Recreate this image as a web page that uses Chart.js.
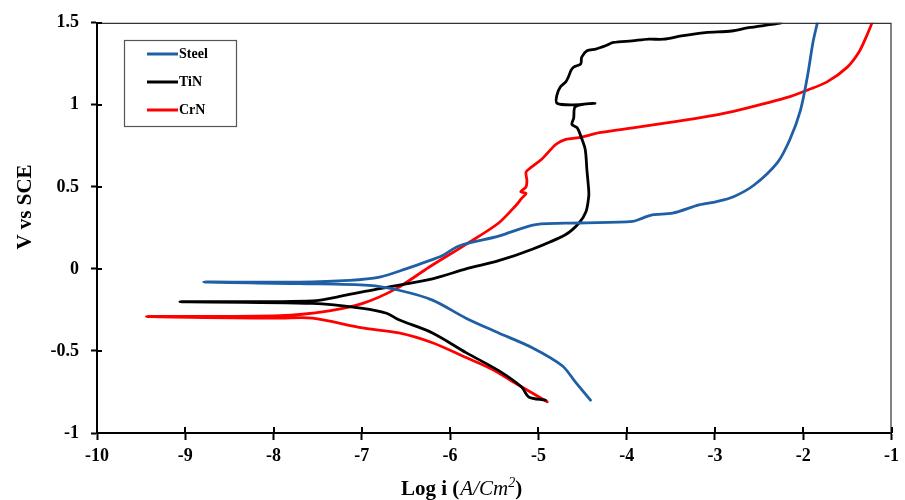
<!DOCTYPE html>
<html><head><meta charset="utf-8">
<script src="https://cdn.jsdelivr.net/npm/chart.js@4.4.1/dist/chart.umd.min.js"></script>
<style>html,body{margin:0;padding:0;background:#fff}#wrap{width:905px;height:500px}</style>
</head><body><div id="wrap"><canvas id="c" width="905" height="500"></canvas></div>
<script>
// ---- data: [log i, V vs SCE] ----
const seriesNames = ['Steel', 'TiN', 'CrN'];
const seriesColors = ['#1F5FA6', '#000000', '#FF0000'];

const steelCathodic = [[-8.79,-0.08],[-7.71,-0.09],[-6.92,-0.10],[-6.58,-0.13],[-6.20,-0.19],[-5.82,-0.30],[-5.45,-0.39],[-5.07,-0.48],[-4.73,-0.59],[-4.58,-0.69],[-4.41,-0.80]];
const steelAnodic = [[-8.79,-0.08],[-7.71,-0.08],[-7.14,-0.07],[-6.80,-0.05],[-6.50,0.0],[-6.29,0.04],[-6.09,0.08],[-5.90,0.14],[-5.45,0.20],[-5.03,0.27],[-4.54,0.28],[-3.93,0.29],[-3.82,0.31],[-3.71,0.33],[-3.48,0.34],[-3.18,0.39],[-2.98,0.41],[-2.79,0.44],[-2.56,0.51],[-2.29,0.65],[-2.15,0.79],[-2.03,0.97],[-1.95,1.18],[-1.89,1.38],[-1.84,1.50]];

const tinCathodic = [[-9.06,-0.20],[-7.56,-0.21],[-6.99,-0.24],[-6.72,-0.27],[-6.58,-0.31],[-6.20,-0.39],[-5.82,-0.51],[-5.45,-0.62],[-5.19,-0.72],[-5.11,-0.78],[-4.92,-0.80]];
const tinAnodic = [[-9.06,-0.20],[-7.56,-0.195],[-7.18,-0.16],[-6.80,-0.12],[-6.20,-0.06],[-5.82,0.0],[-5.45,0.05],[-5.07,0.12],[-4.69,0.21],[-4.54,0.28],[-4.46,0.35],[-4.43,0.44],[-4.43,0.48],[-4.45,0.60],[-4.47,0.73],[-4.52,0.81],[-4.56,0.86],[-4.62,0.88],[-4.60,0.92],[-4.58,0.99],[-4.36,1.01],[-4.60,1.00],[-4.79,1.01],[-4.79,1.06],[-4.75,1.11],[-4.69,1.14],[-4.66,1.17],[-4.63,1.21],[-4.60,1.23],[-4.52,1.25],[-4.51,1.29],[-4.45,1.33],[-4.35,1.34],[-4.24,1.36],[-4.15,1.38],[-3.94,1.39],[-3.75,1.40],[-3.58,1.40],[-3.38,1.42],[-3.11,1.44],[-2.81,1.45],[-2.62,1.47],[-2.36,1.49],[-2.25,1.50]];

const crnCathodic = [[-9.44,-0.29],[-7.93,-0.30],[-7.56,-0.30],[-6.99,-0.36],[-6.58,-0.39],[-6.20,-0.45],[-5.82,-0.54],[-5.53,-0.61],[-5.25,-0.70],[-4.90,-0.81]];
const crnAnodic = [[-9.44,-0.29],[-7.93,-0.285],[-7.37,-0.255],[-6.99,-0.21],[-6.61,-0.12],[-6.24,0.01],[-5.82,0.15],[-5.45,0.28],[-5.25,0.39],[-5.19,0.43],[-5.14,0.46],[-5.20,0.47],[-5.14,0.50],[-5.13,0.54],[-5.14,0.59],[-5.08,0.62],[-4.96,0.67],[-4.80,0.76],[-4.69,0.79],[-4.54,0.80],[-4.31,0.83],[-3.93,0.86],[-3.55,0.89],[-3.18,0.92],[-2.79,0.96],[-2.42,1.01],[-2.15,1.05],[-1.95,1.09],[-1.73,1.14],[-1.50,1.23],[-1.37,1.32],[-1.29,1.41],[-1.22,1.50]];

const xTickValues = [-10,-9,-8,-7,-6,-5,-4,-3,-2,-1];
const xTickLabels = ['-10','-9','-8','-7','-6','-5','-4','-3','-2','-1'];
const yTickValues = [-1,-0.5,0,0.5,1,1.5];
const yTickLabels = ['-1','-0.5','0','0.5','1','1.5'];

// one continuous path per material: cathodic (reversed) then anodic
function path(cat, ano) {
  const pts = cat.slice().reverse().concat(ano.slice(1));
  return pts.map(p => ({x: p[0], y: p[1]}));
}
const branches = [[steelCathodic, steelAnodic],[tinCathodic, tinAnodic],[crnCathodic, crnAnodic]];

const SERIF = '"Liberation Serif", "Times New Roman", serif';

const decor = {
  id: 'decor',
  afterDraw(chart) {
    const ctx = chart.ctx;
    const {left, right, top, bottom} = chart.chartArea;
    const xs = chart.scales.x, ys = chart.scales.y;
    ctx.save();
    // top & right frame
    ctx.strokeStyle = '#333';
    ctx.lineWidth = 1.2;
    ctx.beginPath();
    ctx.moveTo(left, top + 0.5); ctx.lineTo(right - 0.5, top + 0.5); ctx.lineTo(right - 0.5, bottom);
    ctx.stroke();
    // inner halves of the crossing tick marks
    ctx.strokeStyle = '#000';
    ctx.lineWidth = 2;
    ctx.beginPath();
    xTickValues.forEach(v => { const p = Math.round(xs.getPixelForValue(v)); ctx.moveTo(p, bottom); ctx.lineTo(p, bottom - 6); });
    yTickValues.forEach(v => { const p = Math.round(ys.getPixelForValue(v)); ctx.moveTo(left, p); ctx.lineTo(left + 5, p); });
    ctx.stroke();

    // legend box
    const lx = 124, ly = 40, lw = 112, lh = 86;
    ctx.fillStyle = '#fff';
    ctx.fillRect(lx, ly, lw, lh);
    ctx.strokeStyle = '#555';
    ctx.lineWidth = 1.2;
    ctx.strokeRect(lx + 0.5, ly + 0.5, lw, lh);
    const rowsY = [54, 82, 110];
    chart.data.datasets.forEach((ds, i) => {
      const y = rowsY[i];
      ctx.strokeStyle = ds.borderColor;
      ctx.lineWidth = 3;
      ctx.beginPath(); ctx.moveTo(147, y); ctx.lineTo(178, y); ctx.stroke();
      ctx.fillStyle = '#000';
      ctx.font = 'bold 14px ' + SERIF;
      ctx.textAlign = 'left'; ctx.textBaseline = 'middle';
      ctx.fillText(ds.label, 179, y + 0.5);
    });

    // y title
    ctx.save();
    ctx.translate(26, 207);
    ctx.rotate(-Math.PI / 2);
    ctx.font = 'bold 21px ' + SERIF;
    ctx.textAlign = 'center'; ctx.textBaseline = 'middle';
    ctx.fillStyle = '#000';
    ctx.fillText('V vs SCE', 0, 0);
    ctx.restore();

    // x title: Log i (A/Cm²)
    let x = 401; const base = 495;
    ctx.fillStyle = '#000';
    ctx.textAlign = 'left'; ctx.textBaseline = 'alphabetic';
    ctx.font = 'bold 21px ' + SERIF;
    ctx.fillText('Log i (', x, base); x += ctx.measureText('Log i (').width + 1;
    ctx.font = 'italic 21px ' + SERIF;
    ctx.fillText('A/Cm', x, base); x += ctx.measureText('A/Cm').width;
    ctx.font = 'italic 14px ' + SERIF;
    ctx.fillText('2', x, base - 8); x += ctx.measureText('2').width;
    ctx.font = 'bold 21px ' + SERIF;
    ctx.fillText(')', x, base);
    ctx.restore();
  }
};

new Chart(document.getElementById('c'), {
  type: 'scatter',
  data: {
    datasets: seriesNames.map((name, i) => ({
      label: name,
      data: path(branches[i][0], branches[i][1]),
      showLine: true,
      borderColor: seriesColors[i],
      backgroundColor: seriesColors[i],
      borderWidth: 2.8,
      pointRadius: 0,
      tension: 0.3,
      borderJoinStyle: 'round',
      borderCapStyle: 'round'
    }))
  },
  options: {
    responsive: false,
    animation: false,
    devicePixelRatio: 1,
    layout: { padding: { top: 20, right: 12, left: 0, bottom: 0 } },
    plugins: { legend: { display: false }, tooltip: { enabled: false } },
    scales: {
      x: {
        type: 'linear', min: -10, max: -1,
        afterFit: s => { s.height = 67; },
        afterBuildTicks: s => { s.ticks = xTickValues.map(v => ({value: v})); },
        ticks: {
          callback: v => xTickLabels[xTickValues.indexOf(v)],
          font: { family: SERIF, size: 18, weight: 'bold' },
          color: '#000', padding: 6, maxRotation: 0
        },
        grid: { drawOnChartArea: false, drawTicks: true, tickLength: 7, tickWidth: 2, tickColor: '#000', color: '#000' },
        border: { display: true, color: '#000', width: 2 }
      },
      y: {
        type: 'linear', min: -1, max: 1.5,
        afterFit: s => { s.width = 97; },
        afterBuildTicks: s => { s.ticks = yTickValues.map(v => ({value: v})); },
        ticks: {
          callback: v => yTickLabels[yTickValues.indexOf(v)],
          font: { family: SERIF, size: 18, weight: 'bold' },
          color: '#000', padding: 12
        },
        grid: { drawOnChartArea: false, drawTicks: true, tickLength: 6, tickWidth: 2, tickColor: '#000', color: '#000' },
        border: { display: true, color: '#000', width: 2 }
      }
    }
  },
  plugins: [decor]
});
</script>
</body></html>
